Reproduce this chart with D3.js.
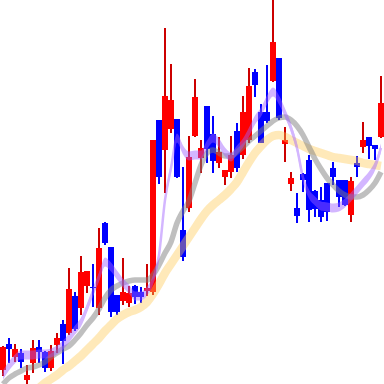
<!DOCTYPE html>
<html lang="en">
  <head>
    <meta charset="utf-8">
    <title></title>
    <script src="https://d3js.org/d3.v7.min.js"></script>
    <style type="text/css">
      body { margin: 0; background: #fff; }
      svg { display: block; }
    </style>
  </head>
  <body>

  <svg width="384" height="384" id="chart"></svg>

  <script>

    // daily bars, oldest first
    var open  = [260,312,286,294,240,274,306,296,264,310,352,334,408,384,428,426,384,554,506,410,398,394,428,416,418,416,760,700,742,762,540,584,728,684,788,732,674,646,656,738,690,720,856,776,776,838,884,712,632,584,652,680,618,600,634,664,640,640,570,674,706,726,710,726];
    var high  = [308,324,312,302,270,320,320,298,310,334,360,464,416,488,458,472,544,556,506,410,484,428,430,426,472,720,760,944,872,762,666,728,842,720,788,768,726,660,728,754,808,864,862,792,870,1010,884,746,656,614,654,690,620,626,634,676,640,640,646,688,756,726,710,848];
    var low   = [248,274,276,264,226,254,274,256,258,294,272,330,338,370,414,386,370,510,366,370,390,386,392,394,408,410,632,614,734,644,478,576,726,654,674,654,664,630,644,656,682,714,806,714,754,836,760,676,618,554,616,556,566,556,558,630,586,588,556,646,694,682,680,724];
    var close = [306,302,302,276,250,304,296,264,298,324,318,422,342,456,458,424,504,514,376,376,416,414,406,406,424,720,646,808,800,646,486,686,806,704,702,678,696,660,690,664,776,828,830,714,758,916,764,720,644,568,640,580,582,566,576,646,606,590,638,666,720,708,702,794];

    // moving averages (null = not drawn)
    var maShort = [250,268,282,290,290,290,292,292,294,300,310,324,340,356,384,416,446,476,466,450,434,422,408,408,418,440,490,600,664,724,700,688,690,690,710,724,714,696,686,700,714,736,760,776,800,816,800,774,744,704,644,612,598,588,586,584,586,594,606,620,634,648,668,704];
    var maMid   = [232,244,252,258,264,266,270,276,286,294,302,308,320,334,350,364,382,404,420,428,434,438,440,440,440,450,470,494,516,554,578,598,634,670,694,700,694,688,688,696,706,718,728,738,748,758,764,766,760,748,730,706,682,662,644,630,618,610,606,606,610,620,634,656];
    var maLong  = [null,null,null,null,null,214,224,234,242,250,260,268,278,288,300,312,324,338,350,362,370,376,380,386,396,412,432,454,472,490,508,526,544,562,578,590,600,610,622,636,656,676,694,708,720,728,730,726,720,714,708,702,698,694,690,686,684,682,680,678,674,672,670,668];

    var days = d3.range(open.length);

    var svg = d3.select("#chart");
    var width = +svg.attr("width");
    var height = +svg.attr("height");

    var xScale = d3.scaleBand().domain(days).range([0, width]).padding(0);
    var yScale = d3.scaleLinear().domain([232, 1000]).range([height, 0]);

    var cx = function(i) { return xScale(i) + xScale.bandwidth() / 2; };

    var data = days.map(function(i) {
      return {i: i, o: open[i], h: high[i], l: low[i], c: close[i], up: close[i] >= open[i]};
    });

    // candles
    var gc = svg.append("g");

    gc.selectAll(".wick").data(data).enter().append("rect").attr("class", "wick")
      .attr("x", function(d) { return cx(d.i) - 1; })
      .attr("width", 2)
      .attr("y", function(d) { return yScale(d.h); })
      .attr("height", function(d) { return yScale(d.l) - yScale(d.h); })
      .attr("fill", function(d) { return d.up ? "#cc0000" : "#0000ff"; });

    gc.selectAll(".body").data(data).enter().append("rect").attr("class", "body")
      .attr("x", function(d) { return xScale(d.i); })
      .attr("width", xScale.bandwidth())
      .attr("y", function(d) { return yScale(Math.max(d.o, d.c)); })
      .attr("height", function(d) { return Math.max(1, Math.abs(yScale(d.o) - yScale(d.c))); })
      .attr("fill", function(d) { return d.up ? "#ff0000" : "#0000ff"; });

    // average lines on top
    var line = function(vals) {
      return d3.line()
        .defined(function(d) { return vals[d] != null; })
        .x(function(d) { return cx(d); })
        .y(function(d) { return yScale(vals[d]); })
        .curve(d3.curveMonotoneX)(days);
    };

    svg.append("path").attr("d", line(maLong))
      .attr("fill", "none").attr("stroke", "#ffc850").attr("stroke-width", 8.5).attr("opacity", 0.4);

    svg.append("path").attr("d", line(maMid))
      .attr("fill", "none").attr("stroke", "#808080").attr("stroke-width", 5.5).attr("opacity", 0.5);

    var gp = svg.append("g").attr("opacity", 0.45);
    var ribbon = d3.area()
      .x(function(d) { return cx(d); })
      .y0(function(d) { return yScale(maShort[d]) - 4.5; })
      .y1(function(d) { return yScale(maShort[d]) + 4.5; })
      .curve(d3.curveMonotoneX);
    gp.append("path").attr("d", ribbon(days)).attr("fill", "#a060ff");
    gp.append("path").attr("d", line(maShort))
      .attr("fill", "none").attr("stroke", "#a060ff").attr("stroke-width", 2.5);

  </script>

  </body>
</html>
